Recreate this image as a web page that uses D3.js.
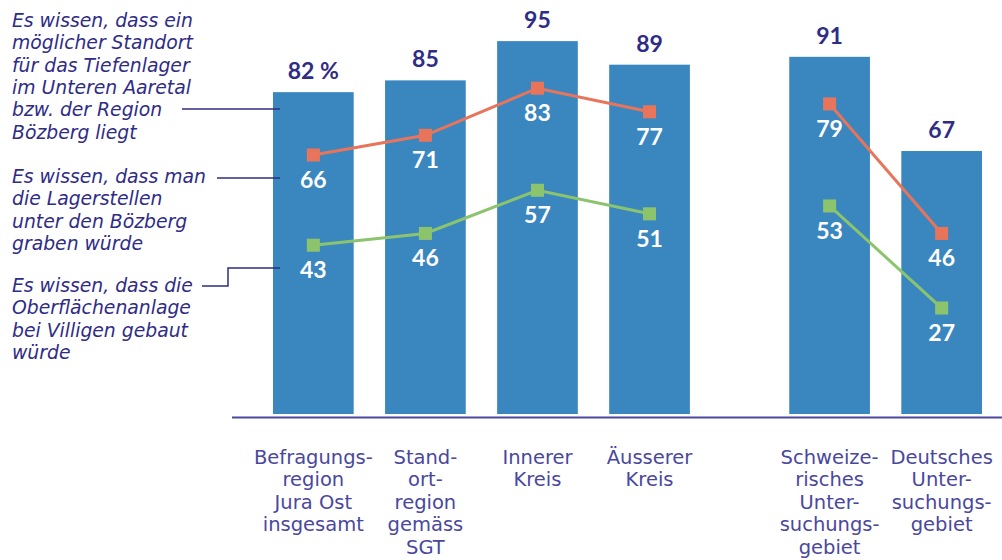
<!DOCTYPE html>
<html>
<head>
<meta charset="utf-8">
<script src="https://cdn.jsdelivr.net/npm/d3@7"></script>
<style>
  body { margin: 0; background: #fff; }
  svg { display: block; }
</style>
</head>
<body>
<svg width="1002" height="560"></svg>
<script>
// Kenntnis der Standortfakten, Anteile in %
var categories = [
  ["Befragungs-", "region", "Jura Ost", "insgesamt"],
  ["Stand-", "ort-", "region", "gemäss", "SGT"],
  ["Innerer", "Kreis"],
  ["Äusserer", "Kreis"],
  ["Schweize-", "risches", "Unter-", "suchungs-", "gebiet"],
  ["Deutsches", "Unter-", "suchungs-", "gebiet"]
];
var groups = [0, 0, 0, 0, 1, 1];
var totalValues = [82, 85, 95, 89, 91, 67];      // Standort im Unteren Aaretal / Bözberg
var tunnelValues = [66, 71, 83, 77, 79, 46];     // Lagerstellen unter dem Bözberg
var surfaceValues = [43, 46, 57, 51, 53, 27];    // Oberflächenanlage bei Villigen
var noteLines = [
  ["Es wissen, dass ein", "möglicher Standort", "für das Tiefenlager", "im Unteren Aaretal", "bzw. der Region", "Bözberg liegt"],
  ["Es wissen, dass man", "die Lagerstellen", "unter den Bözberg", "graben würde"],
  ["Es wissen, dass die", "Oberflächenanlage", "bei Villigen gebaut", "würde"]
];

var colors = { bar: "#3a87c0", red: "#e8755b", green: "#8cc46e", navy: "#2f2c86", label: "#4a479e" };
var groupGap = 68;

var svg = d3.select("svg");

var x = d3.scaleBand()
  .domain(d3.range(categories.length))
  .range([273, 914])
  .paddingInner(0.28)
  .paddingOuter(0);
function xPos(i) { return x(i) + groups[i] * groupGap; }
function xMid(i) { return xPos(i) + x.bandwidth() / 2; }

var y = d3.scaleLinear().domain([0, 100]).range([414, 21.5]);

// bars
svg.append("g").selectAll("rect")
  .data(totalValues)
  .enter().append("rect")
  .attr("x", function (d, i) { return xPos(i); })
  .attr("y", function (d) { return y(d); })
  .attr("width", x.bandwidth())
  .attr("height", function (d) { return y(0) - y(d); })
  .attr("fill", colors.bar);

// baseline
svg.append("line")
  .attr("x1", 232).attr("x2", 1002)
  .attr("y1", y(0) + 3.5).attr("y2", y(0) + 3.5)
  .attr("stroke", colors.label).attr("stroke-width", 2);

// totals above bars
svg.append("g").selectAll("text")
  .data(totalValues)
  .enter().append("text")
  .attr("x", function (d, i) { return xMid(i); })
  .attr("y", function (d) { return y(d) - 13; })
  .attr("text-anchor", "middle")
  .attr("font-family", "Lato, sans-serif")
  .attr("font-weight", 700)
  .attr("font-size", 23)
  .attr("fill", colors.navy)
  .text(function (d, i) { return i === 0 ? d + " %" : d; });

// lines (broken between the two groups)
function drawSeries(values, color) {
  var line = d3.line()
    .x(function (d) { return xMid(d.i); })
    .y(function (d) { return y(d.v); });
  [0, 1].forEach(function (g) {
    var pts = values.map(function (v, i) { return { v: v, i: i }; })
      .filter(function (d) { return groups[d.i] === g; });
    svg.append("path")
      .datum(pts)
      .attr("d", line)
      .attr("fill", "none")
      .attr("stroke", color)
      .attr("stroke-width", 3);
  });
  var s = 13;
  svg.append("g").selectAll("rect")
    .data(values)
    .enter().append("rect")
    .attr("x", function (d, i) { return xMid(i) - s / 2; })
    .attr("y", function (d) { return y(d) - s / 2; })
    .attr("width", s).attr("height", s)
    .attr("fill", color);
  svg.append("g").selectAll("text")
    .data(values)
    .enter().append("text")
    .attr("x", function (d, i) { return xMid(i); })
    .attr("y", function (d) { return y(d) + 33; })
    .attr("text-anchor", "middle")
    .attr("font-family", "Lato, sans-serif")
    .attr("font-weight", 700)
    .attr("font-size", 23)
    .attr("fill", "#fff")
    .text(function (d) { return d; });
}
drawSeries(tunnelValues, colors.red);
drawSeries(surfaceValues, colors.green);

// category labels
var catG = svg.append("g").selectAll("text")
  .data(categories)
  .enter().append("text")
  .attr("text-anchor", "middle")
  .attr("font-family", "'DejaVu Sans', sans-serif")
  .attr("font-size", 19.5)
  .attr("fill", colors.label);
catG.selectAll("tspan")
  .data(function (d, i) { return d.map(function (t) { return { t: t, i: i }; }); })
  .enter().append("tspan")
  .attr("x", function (d) { return xMid(d.i); })
  .attr("y", function (d, j) { return 464 + j * 22.4; })
  .text(function (d) { return d.t; });

// annotations with leader lines
var noteTop = [27, 183, 292];
var noteG = svg.append("g").selectAll("text")
  .data(noteLines)
  .enter().append("text")
  .attr("font-family", "'DejaVu Sans', sans-serif")
  .attr("font-style", "italic")
  .attr("font-size", 18.8)
  .attr("fill", colors.navy);
noteG.selectAll("tspan")
  .data(function (d, i) { return d.map(function (t) { return { t: t, i: i }; }); })
  .enter().append("tspan")
  .attr("x", 12)
  .attr("y", function (d, j) { return noteTop[d.i] + j * 22.3; })
  .text(function (d) { return d.t; });

var leaders = [
  [[182, 109], [280, 109]],
  [[217, 178], [280, 178]],
  [[202, 286], [228, 286], [228, 268], [280, 268]]
];
svg.append("g").selectAll("path")
  .data(leaders)
  .enter().append("path")
  .attr("d", d3.line())
  .attr("fill", "none")
  .attr("stroke", colors.navy)
  .attr("stroke-width", 1.5);
</script>
</body>
</html>
